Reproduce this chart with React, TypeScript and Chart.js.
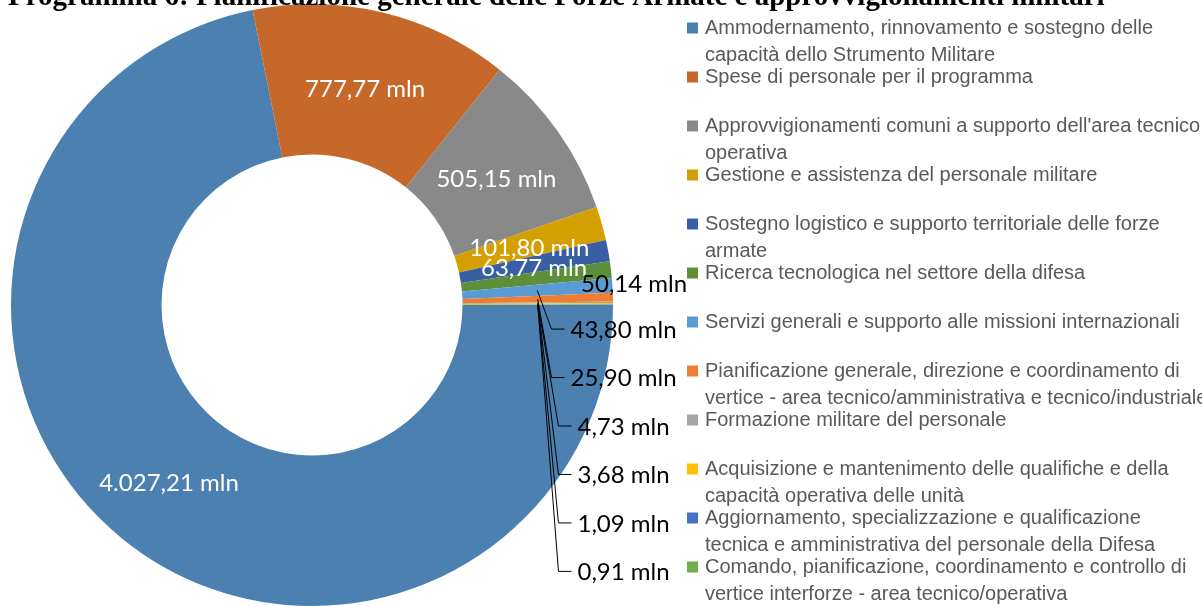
import React, { useEffect, useRef } from "react";
import { Chart, registerables } from "chart.js";

Chart.register(...registerables);

const TITLE =
  "Programma 6: Pianificazione generale delle Forze Armate e approvvigionamenti militari";

// Legend categories (explicit line breaks as in the original)
const categories: string[][] = [
  ["Ammodernamento, rinnovamento e sostegno delle", "capacità dello Strumento Militare"],
  ["Spese di personale per il programma"],
  ["Approvvigionamenti comuni a supporto dell'area tecnico", "operativa"],
  ["Gestione e assistenza del personale militare"],
  ["Sostegno logistico e supporto territoriale delle forze", "armate"],
  ["Ricerca tecnologica nel settore della difesa"],
  ["Servizi generali e supporto alle missioni internazionali"],
  [
    "Pianificazione generale, direzione e coordinamento di",
    "vertice - area tecnico/amministrativa e tecnico/industriale",
  ],
  ["Formazione militare del personale"],
  ["Acquisizione e mantenimento delle qualifiche e della", "capacità operativa delle unità"],
  ["Aggiornamento, specializzazione e qualificazione", "tecnica e amministrativa del personale della Difesa"],
  ["Comando, pianificazione, coordinamento e controllo di", "vertice interforze - area tecnico/operativa"],
];

// Values in millions
const values: number[] = [
  4027.21, 777.77, 505.15, 101.8, 63.77, 50.14, 43.8, 25.9, 4.73, 3.68, 1.09, 0.91,
];

const colors: string[] = [
  "#4B80B1",
  "#C56829",
  "#898989",
  "#D49F00",
  "#385FA3",
  "#5D8F3B",
  "#5B9BD5",
  "#ED7D31",
  "#A5A5A5",
  "#FFC000",
  "#4472C4",
  "#70AD47",
];

const UNIT = " mln";

function fmtIt(v: number): string {
  const fixed = v.toFixed(2);
  const [intPart, dec] = fixed.split(".");
  const withSep = intPart.replace(/\B(?=(\d{3})+(?!\d))/g, ".");
  return withSep + "," + dec + UNIT;
}

const titlePlugin = {
  id: "cutTitle",
  afterDraw(chart: any) {
    const ctx = chart.ctx as CanvasRenderingContext2D;
    ctx.save();
    ctx.font = "bold 29px 'Liberation Serif', 'Times New Roman', serif";
    ctx.fillStyle = "#000";
    ctx.textAlign = "left";
    ctx.textBaseline = "alphabetic";
    ctx.fillText(TITLE, 8, 5);
    ctx.restore();
  },
};

const legendPlugin = {
  id: "sideLegend",
  afterDraw(chart: any) {
    const ctx = chart.ctx as CanvasRenderingContext2D;
    const boxX = 687;
    const textX = 705;
    const firstY = 28;
    const entryGap = 49;
    const lineGap = 27;
    const box = 11;
    ctx.save();
    ctx.font = "20px 'Liberation Sans', Arial, sans-serif";
    ctx.textBaseline = "middle";
    ctx.textAlign = "left";
    categories.forEach((lines, i) => {
      const y = firstY + i * entryGap;
      ctx.fillStyle = colors[i];
      ctx.fillRect(boxX, y - box / 2, box, box);
      ctx.fillStyle = "#595959";
      lines.forEach((ln, j) => {
        ctx.fillText(ln, textX, y + j * lineGap);
      });
    });
    ctx.restore();
  },
};

const valueLabelPlugin = {
  id: "valueLabels",
  afterDatasetsDraw(chart: any) {
    const ctx = chart.ctx as CanvasRenderingContext2D;
    const meta = chart.getDatasetMeta(0);
    const arcs = meta.data as any[];
    if (!arcs.length) return;
    const { x: cx, y: cy, outerRadius: R } = arcs[0].getProps(["x", "y", "outerRadius"], true);
    ctx.save();
    ctx.font = "24px Lato, 'Open Sans', sans-serif";
    ctx.textBaseline = "middle";
    ctx.textAlign = "center";
    ctx.lineWidth = 1;
    ctx.strokeStyle = "#000";
    let k = 0;
    arcs.forEach((arc: any, i: number) => {
      const text = fmtIt(values[i]);
      const p = arc.tooltipPosition(true);
      if (i < 5) {
        ctx.fillStyle = "#FFFFFF";
        ctx.fillText(text, p.x, p.y + 4);
      } else if (i === 5) {
        ctx.fillStyle = "#000";
        ctx.fillText(text, cx + 1.07 * R, p.y + 6);
      } else {
        const lx = cx + 1.035 * R;
        const ly = cy + 0.08 * R + k * 0.161 * R;
        k++;
        const w = ctx.measureText(text).width;
        const end = lx - w / 2 - 6;
        const elbow = end - 13;
        ctx.beginPath();
        ctx.moveTo(p.x, p.y);
        ctx.lineTo(elbow, ly);
        ctx.lineTo(end, ly);
        ctx.stroke();
        ctx.fillStyle = "#000";
        ctx.fillText(text, lx, ly + 1);
      }
    });
    ctx.restore();
  },
};

export default function App() {
  const canvasRef = useRef<HTMLCanvasElement | null>(null);

  useEffect(() => {
    if (!canvasRef.current) return;
    const chart = new Chart(canvasRef.current, {
      type: "doughnut",
      data: {
        labels: categories.map((l) => l.join(" ")),
        datasets: [
          {
            data: values,
            backgroundColor: colors,
            borderWidth: 0,
          },
        ],
      },
      options: {
        animation: false,
        responsive: true,
        maintainAspectRatio: false,
        rotation: 90,
        cutout: "50%",
        layout: { padding: { left: 11, right: 589, top: 4, bottom: 0 } },
        plugins: {
          legend: { display: false },
          title: { display: false },
          tooltip: { enabled: false },
        },
      },
      plugins: [valueLabelPlugin, legendPlugin, titlePlugin],
    });
    return () => chart.destroy();
  }, []);

  return (
    <div
      style={{
        position: "fixed",
        left: 0,
        top: 0,
        width: 1202,
        height: 606,
        background: "#fff",
        overflow: "hidden",
      }}
    >
      <canvas ref={canvasRef} />
    </div>
  );
}
